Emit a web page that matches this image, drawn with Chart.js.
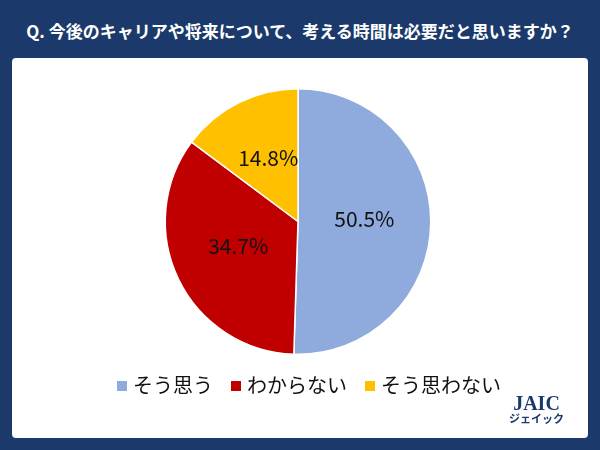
<!DOCTYPE html><html><head><meta charset="utf-8">
<script src="https://cdn.jsdelivr.net/npm/chart.js@4"></script>
<style>
body{margin:0;width:600px;height:450px;background:#1b3a6b;position:relative;overflow:hidden;font-family:"Noto Sans CJK JP",sans-serif}
#title{position:absolute;left:0;top:0;width:600px;height:58px;line-height:62px;text-align:center;color:#fff;font-weight:bold;font-size:17px}
#panel{position:absolute;left:12px;top:58px;width:576px;height:380px;background:#fff;border-radius:4px}
#logo{position:absolute;right:24px;bottom:14px;text-align:center;color:#1b3a6b;font-family:"Liberation Serif",serif;font-weight:bold;line-height:1}
#leg{position:absolute;left:0;width:576px;top:312px;text-align:center;font-size:20px;color:#111}
#leg span.b{display:inline-block;width:10px;height:10px;margin:0 6px 3px 18px;vertical-align:middle}
</style></head><body>
<div id="title">Q. 今後のキャリアや将来について、考える時間は必要だと思いますか？</div>
<div id="panel"><canvas id="c" width="576" height="380"></canvas>
<div id="leg"></div>
<div id="logo"><div style="font-size:20px">JAIC</div><div style="font-size:11px;font-family:'Noto Sans CJK JP'">ジェイック</div></div></div>
<script>
const labels=["そう思う","わからない","そう思わない"];
const values=[50.5,34.7,14.8];
const colors=["#8faadc","#c00000","#ffc000"];
document.getElementById("leg").innerHTML=labels.map((l,i)=>`<span class="b" style="background:${colors[i]}"></span>${l}`).join("");
const lbl={id:"lbl",afterDatasetsDraw(ch){const ctx=ch.ctx;ch.getDatasetMeta(0).data.forEach((a,i)=>{const p=a.tooltipPosition();ctx.save();ctx.fillStyle="#111";ctx.font="21px 'Noto Sans CJK JP'";ctx.textAlign="center";ctx.textBaseline="middle";ctx.fillText(values[i].toFixed(1)+"%",p.x,p.y-4);ctx.restore();});}};
new Chart(document.getElementById("c"),{type:"pie",data:{labels,datasets:[{data:values,backgroundColor:colors,borderColor:"#fff",borderWidth:1.5}]},
options:{responsive:false,animation:false,layout:{padding:{top:30,bottom:83,right:4}},plugins:{tooltip:{enabled:false},legend:{display:false}}},plugins:[lbl]});
</script></body></html>
